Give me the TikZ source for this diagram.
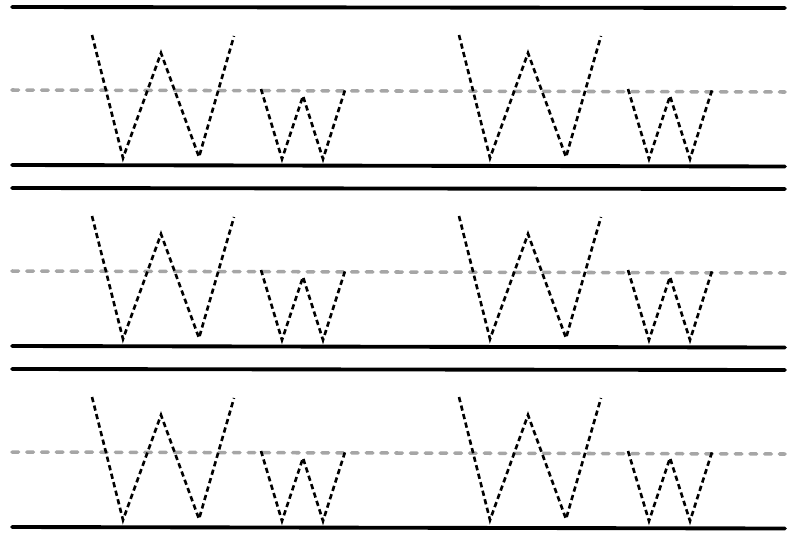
\documentclass[tikz,border=0pt]{standalone}
\usepackage{tikz}
\usetikzlibrary{calc}

\begin{document}
\begin{tikzpicture}[x=0.02cm, y=-0.02cm,
			rule/.style={draw, line width=2.2pt, line cap=round},
			midrule/.style={draw, color=black!35, line width=2pt, line cap=round, dash pattern=on 3.8pt off 4.6pt},
			letter/.style={draw, line width=1.5pt, dash pattern=on 3pt off 2pt, line join=miter}]
			\useasboundingbox (0, 0) rectangle (790, 534);
			
			% three writing bands, two pairs of W/w in each
			\foreach \row in {0, 1, 2} {
				\begin{scope}[yshift=-\row*181*0.02cm]
					\coordinate (topL) at (12, 7);
					\coordinate (topR) at (785, 8);
					\coordinate (midL) at (12, 90);
					\coordinate (midR) at (785, 92);
					\coordinate (botL) at (12, 165);
					\coordinate (botR) at (785, 166.5);
					\path[rule] (topL) -- (topR);
					\path[midrule] (midL) -- (midR);
					\path[rule] (botL) -- (botR);
					\foreach \col in {0, 1} {
						\begin{scope}[xshift=\col*367*0.02cm]
							% capital W
							\path[letter] (92, 35) -- (123, 158) -- (161, 53) -- (199, 157) -- (234, 36);
							% small w
							\path[letter] (261, 89) -- (282, 159) -- (303, 96) -- (323, 159) -- (345, 90);
						\end{scope}
					}
				\end{scope}
			}
		\end{tikzpicture}
\end{document}
